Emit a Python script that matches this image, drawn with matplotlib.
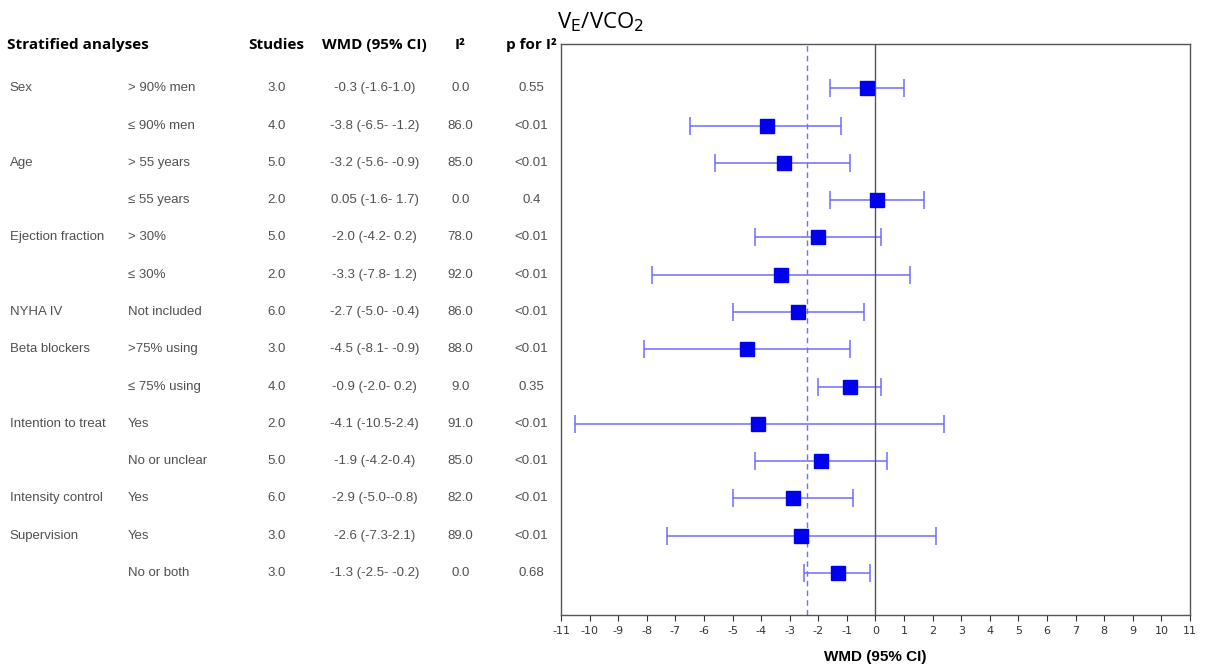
import matplotlib
matplotlib.use('Agg')
import matplotlib.pyplot as plt
from matplotlib.transforms import blended_transform_factory

plt.rcParams['axes.unicode_minus'] = False

# Data
groups = ['Sex', '', 'Age', '', 'Ejection fraction', '', 'NYHA IV', 'Beta blockers', '',
          'Intention to treat', '', 'Intensity control', 'Supervision', '']
subgroups = ['> 90% men', '≤ 90% men', '> 55 years', '≤ 55 years', '> 30%', '≤ 30%',
             'Not included', '>75% using', '≤ 75% using', 'Yes', 'No or unclear',
             'Yes', 'Yes', 'No or both']
studies = ['3.0', '4.0', '5.0', '2.0', '5.0', '2.0', '6.0', '3.0', '4.0', '2.0', '5.0',
           '6.0', '3.0', '3.0']
wmd_text = ['-0.3 (-1.6-1.0)', '-3.8 (-6.5- -1.2)', '-3.2 (-5.6- -0.9)', '0.05 (-1.6- 1.7)',
            '-2.0 (-4.2- 0.2)', '-3.3 (-7.8- 1.2)', '-2.7 (-5.0- -0.4)', '-4.5 (-8.1- -0.9)',
            '-0.9 (-2.0- 0.2)', '-4.1 (-10.5-2.4)', '-1.9 (-4.2-0.4)', '-2.9 (-5.0--0.8)',
            '-2.6 (-7.3-2.1)', '-1.3 (-2.5- -0.2)']
i2 = ['0.0', '86.0', '85.0', '0.0', '78.0', '92.0', '86.0', '88.0', '9.0', '91.0', '85.0',
      '82.0', '89.0', '0.0']
p_i2 = ['0.55', '<0.01', '<0.01', '0.4', '<0.01', '<0.01', '<0.01', '<0.01', '0.35',
        '<0.01', '<0.01', '<0.01', '<0.01', '0.68']
wmd = [-0.3, -3.8, -3.2, 0.05, -2.0, -3.3, -2.7, -4.5, -0.9, -4.1, -1.9, -2.9, -2.6, -1.3]
lo = [-1.6, -6.5, -5.6, -1.6, -4.2, -7.8, -5.0, -8.1, -2.0, -10.5, -4.2, -5.0, -7.3, -2.5]
hi = [1.0, -1.2, -0.9, 1.7, 0.2, 1.2, -0.4, -0.9, 0.2, 2.4, 0.4, -0.8, 2.1, -0.2]
pooled = -2.4

fig = plt.figure(figsize=(12.08, 6.7), dpi=100)
ax = fig.add_axes([0.4644, 0.082, 0.5207, 0.852])

rows = list(range(len(wmd)))
xerr = [[w - l for w, l in zip(wmd, lo)], [h - w for w, h in zip(wmd, hi)]]
ax.errorbar(wmd, rows, xerr=xerr, fmt='none', ecolor='#6c6cff', elinewidth=1.1,
            capsize=6.5, capthick=1.1, zorder=2)
ax.plot(wmd, rows, 's', color='#0000ee', markersize=10, zorder=3)
ax.axvline(0, color='#555555', lw=1)
ax.axvline(pooled, color='#7070ff', lw=1, ls=(0, (4, 3)))

ax.set_xlim(-11, 11)
ax.set_ylim(14.13, -1.18)
ax.set_xticks(range(-11, 12))
ax.set_yticks([])
ax.tick_params(axis='x', labelsize=8, direction='out', length=4, colors='#333333', pad=4)
for s in ax.spines.values():
    s.set_color('#555555')
    s.set_linewidth(1)
ax.set_xlabel('WMD (95% CI)', fontsize=11, fontweight='bold', family='Liberation Sans',
              labelpad=10)

fig.text(0.497, 0.967, r'V$_\mathrm{E}$/VCO$_2$', fontsize=16, family='Open Sans',
         ha='center', va='center')

# Table header
hy = 0.933
hfont = dict(fontsize=11, fontweight='bold', family='Open Sans', va='center')
fig.text(0.006, hy, 'Stratified analyses', ha='left', **hfont)
fig.text(0.229, hy, 'Studies', ha='center', **hfont)
fig.text(0.310, hy, 'WMD (95% CI)', ha='center', **hfont)
fig.text(0.381, hy, 'I²', ha='center', **hfont)
fig.text(0.440, hy, 'p for I²', ha='center', **hfont)

# Table rows
tr = blended_transform_factory(fig.transFigure, ax.transData)
rfont = dict(fontsize=9.5, family='Liberation Sans', color='#505050', va='center',
             transform=tr)
for r in rows:
    fig.text(0.008, r, groups[r], ha='left', **rfont)
    fig.text(0.106, r, subgroups[r], ha='left', **rfont)
    fig.text(0.229, r, studies[r], ha='center', **rfont)
    fig.text(0.310, r, wmd_text[r], ha='center', **rfont)
    fig.text(0.381, r, i2[r], ha='center', **rfont)
    fig.text(0.440, r, p_i2[r], ha='center', **rfont)

fig.savefig('out.png', dpi=100)
